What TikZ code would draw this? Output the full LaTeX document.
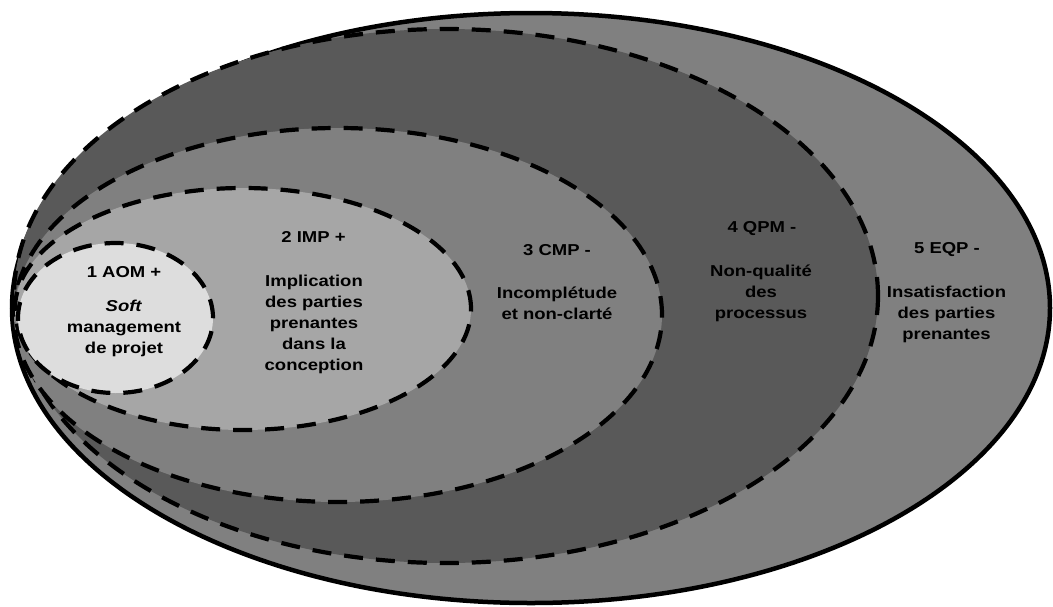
\documentclass[tikz,border=0pt]{standalone}
\usepackage{fontspec}
\setmainfont[FakeStretch=1.17]{Liberation Sans}
\definecolor{zoneFive}{HTML}{808080}
\definecolor{zoneFour}{HTML}{595959}
\definecolor{zoneThree}{HTML}{808080}
\definecolor{zoneTwo}{HTML}{A6A6A6}
\definecolor{zoneOne}{HTML}{DDDDDD}
\begin{document}
\begin{tikzpicture}[x=1pt,y=-1pt,
  rim/.style={line width=4.5pt},
  ring/.style={line width=4.2pt, dash pattern=on 19pt off 13pt},
  lbl/.style={anchor=base, inner sep=0pt, align=center, text=black,
    font=\bfseries\fontsize{15.8}{21.2}\selectfont}]
\useasboundingbox (0,0) rectangle (1053,606);

% nested zones, from the outermost inwards
\filldraw[fill=zoneFive, rim]  (531,308) ellipse [x radius=519pt, y radius=295pt];
\filldraw[fill=zoneFour, ring] (446,296) ellipse [x radius=432pt, y radius=267pt];
\filldraw[fill=zoneThree, ring] (338,315) ellipse [x radius=324pt, y radius=187pt];
\filldraw[fill=zoneTwo, ring]  (243,309) ellipse [x radius=228pt, y radius=121pt];
\filldraw[fill=zoneOne, ring]  (115.5,318) ellipse [x radius=97.5pt, y radius=75pt];

% labels: a block's base anchor sits on the baseline of its last line
% zone 1
\node[lbl] (t1) at (124,277) {1 AOM +};
\node[lbl] (b1) at (124,353.4) {\textit{Soft}\\management\\de projet};
% zone 2
\node[lbl] (t2) at (313.5,242) {2 IMP +};
\node[lbl] (b2) at (314,370.8) {Implication\\des parties\\prenantes\\dans la\\conception};
% zone 3
\node[lbl] (t3) at (557,255) {3 CMP -};
\node[lbl] (b3) at (557,319.2) {Incomplétude\\et non-clarté};
% zone 4
\node[lbl] (t4) at (762,232) {4 QPM -};
\node[lbl] (b4) at (761,318.4) {Non-qualité\\des\\processus};
% zone 5
\node[lbl] (t5) at (947,253) {5 EQP -};
\node[lbl] (b5) at (946.5,339.4) {Insatisfaction\\des parties\\prenantes};
\end{tikzpicture}
\end{document}
